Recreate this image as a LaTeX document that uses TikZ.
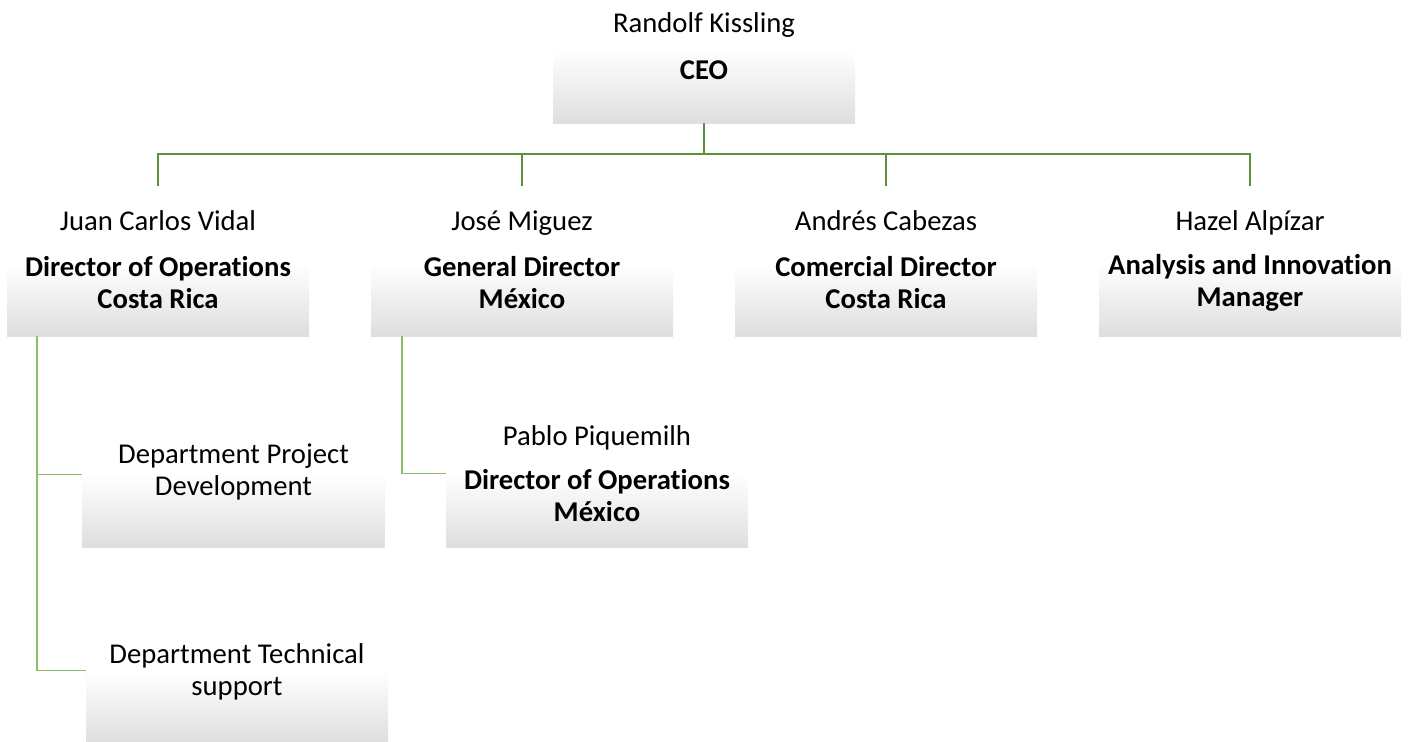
\documentclass[tikz,border=0pt]{standalone}
\usepackage{fontspec}
\setmainfont{Carlito}[Ligatures={NoCommon}]
\begin{document}
\begin{tikzpicture}[x=0.75pt,y=-0.75pt,
  card/.style={rectangle, inner sep=0pt, minimum width=302*0.75pt, minimum height=73*0.75pt,
    top color=white, bottom color=black!13, draw=none},
  person/.style={font=\fontsize{21.5}{24}\selectfont, inner sep=0pt, anchor=base},
  role/.style={font=\fontsize{21.5}{24}\selectfont\bfseries, align=center, inner sep=0pt},
  dept/.style={font=\fontsize{21.5}{24}\selectfont, align=center, inner sep=0pt},
  link/.style={draw={rgb,255:red,92;green,145;blue,58}, line width=1.5pt},
  sublink/.style={draw={rgb,255:red,140;green,190;blue,106}, line width=1.1pt}]
\useasboundingbox (0,0) rectangle (1410,742);

% CEO
\node[person] (nceo) at (704,33) {Randolf Kissling};
\node[card] (ceo) at (704,86.5) {};
\node[role] (tceo) at (704,70) {CEO};

% second level
\node[person] (njv) at (158,230) {Juan Carlos Vidal};
\node[card] (jv) at (158,299.5) {};
\node[role] (tjv) at (158,283) {Director of Operations\\Costa Rica};

\node[person] (njm) at (522,230) {José Miguez};
\node[card] (jm) at (522,299.5) {};
\node[role] (tjm) at (522,283) {General Director\\México};

\node[person] (nac) at (886,230) {Andrés Cabezas};
\node[card] (ac) at (886,299.5) {};
\node[role] (tac) at (886,283) {Comercial Director\\Costa Rica};

\node[person] (nha) at (1250,230) {Hazel Alpízar};
\node[card] (ha) at (1250,299.5) {};
\node[role] (tha) at (1250,283) {Analysis and Innovation\\Manager};

% third level
\node[card] (dpd) at (233.5,511) {};
\node[dept] (tdpd) at (233.5,472) {Department Project\\Development};

\node[card] (dts) at (237,707.5) {};
\node[dept] (tdts) at (237,671.5) {Department Technical\\support};

\node[person] (npp) at (597,445) {Pablo Piquemilh};
\node[card] (pp) at (597,510.5) {};
\node[role] (tpp) at (597,496) {Director of Operations\\México};

% connectors from the CEO
\coordinate (bus) at (704,154);
\coordinate (d1) at (158,186);
\coordinate (d2) at (522,186);
\coordinate (d3) at (886,186);
\coordinate (d4) at (1250,186);
\draw[link] (ceo.south) -- (bus);
\draw[link] (d1) |- (bus) -| (d4);
\draw[link] (d2) -- (d2 |- bus);
\draw[link] (d3) -- (d3 |- bus);

% connectors to the departments
\coordinate (jvroot) at (37,336);
\coordinate (jmroot) at (402,336);
\draw[sublink] (jvroot) |- (dpd.north west);
\draw[sublink] (jvroot) |- (dts.north west);
\draw[sublink] (jmroot) |- (pp.north west);
\end{tikzpicture}
\end{document}
